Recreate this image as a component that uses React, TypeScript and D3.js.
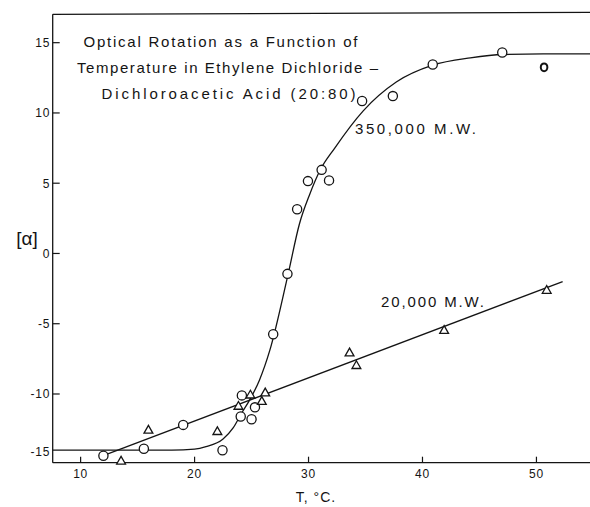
import React from "react";
import * as d3 from "d3";

// ---- data ----
const xTicks = [10, 20, 30, 40, 50];
const yTicks = [15, 10, 5, 0, -5, -10, -15];

// 350,000 M.W. (circles)
const circleT = [12.0, 15.55, 19.0, 22.45, 24.15, 24.05, 25.0, 25.3, 26.9, 28.15, 29.0, 29.95, 31.15, 31.8, 34.7, 37.4, 40.9, 47.0];
const circleV = [-14.4, -13.9, -12.2, -14.0, -10.1, -11.6, -11.8, -10.95, -5.75, -1.45, 3.15, 5.15, 5.95, 5.2, 10.85, 11.2, 13.45, 14.3];
const oddT = [50.67];
const oddV = [13.25];

// smooth curve drawn through the 350,000 M.W. points
const curveT = [7.55, 14, 18, 20, 21, 22.5, 23.4, 24.1, 24.85, 25.7, 26.6, 28.2, 29.2, 30.1, 31.0, 32.3, 34.8, 37.7, 40.9, 44.2, 47.1, 50.6, 54.7];
const curveV = [-14.0, -14.0, -14.0, -13.93, -13.75, -13.2, -12.4, -11.4, -10.4, -9.0, -6.9, -1.5, 2.1, 4.2, 5.9, 7.5, 10.15, 12.2, 13.4, 13.92, 14.16, 14.2, 14.2];

// 20,000 M.W. (triangles)
const triT = [13.55, 15.95, 22.0, 23.85, 24.9, 26.2, 25.9, 33.6, 34.2, 41.9, 50.9];
const triV = [-14.75, -12.55, -12.65, -10.85, -10.05, -9.9, -10.5, -7.05, -7.95, -5.45, -2.6];
const lineT = [12.1, 52.3];
const lineV = [-14.35, -2.0];

const titleLines = [
  "Optical Rotation as a Function of",
  "Temperature in Ethylene Dichloride –",
  "Dichloroacetic Acid (20:80)",
];

const W = 590;
const H = 507;

export default function App() {
  const x = d3.scaleLinear().domain([7.55, 54.7]).range([52.7, 590]);
  const y = d3.scaleLinear().domain([-14.89, 17.02]).range([462.7, 14.3]);
  const [x0, x1] = x.range();
  const [yB, yT] = y.range();

  const curvePath = d3
    .line<number>()
    .x((_, i) => x(curveT[i]))
    .y((_, i) => y(curveV[i]))
    .curve(d3.curveMonotoneX)(curveT) as string;

  const linePath = d3
    .line<number>()
    .x((_, i) => x(lineT[i]))
    .y((_, i) => y(lineV[i]))(lineT) as string;

  const ink = "#141414";
  const font = "'Liberation Sans', 'DejaVu Sans', sans-serif";
  const tri = (cx: number, cy: number) => {
    const s = 4.4;
    return `M${cx},${cy - s * 1.0}L${cx + s * 1.0},${cy + s * 0.75}L${cx - s * 1.0},${cy + s * 0.75}Z`;
  };

  const titleX = [83.5, 77, 101.5];
  const titleW = [274, 301, 254];
  const titleY = [47, 73, 99];

  return (
    <svg
      width={W}
      height={H}
      viewBox={`0 0 ${W} ${H}`}
      style={{ position: "absolute", left: 0, top: 0, background: "#fff" }}
    >
      <rect x={0} y={0} width={W} height={H} fill="#fff" />
      {/* frame */}
      <g stroke={ink} strokeWidth={1.3} fill="none">
        <line x1={x0} y1={yT} x2={x1} y2={yT - 2} />
        <line x1={x0} y1={yT} x2={x0} y2={yB} />
        <line x1={x0} y1={yB} x2={x1} y2={yB} />
      </g>
      {/* y ticks */}
      {yTicks.map((v) => (
        <g key={"y" + v}>
          {v > -15 && (
            <line x1={x0} x2={x0 + 7} y1={y(v)} y2={y(v)} stroke={ink} strokeWidth={1.2} />
          )}
          <text
            x={x0 - 2.5}
            y={Math.min(y(v), yB - 11)}
            dy="0.36em"
            textAnchor="end"
            fontFamily={font}
            fontSize={12}
            fill={ink}
            letterSpacing={0.8}
          >
            {v < 0 ? "-" + Math.abs(v) : String(v)}
          </text>
        </g>
      ))}
      {/* x ticks */}
      {xTicks.map((t) => (
        <g key={"x" + t}>
          <line x1={x(t)} x2={x(t)} y1={yB} y2={yB - 6} stroke={ink} strokeWidth={1.2} />
          <text
            x={x(t)}
            y={yB + 15}
            textAnchor="middle"
            fontFamily={font}
            fontSize={12}
            fill={ink}
            letterSpacing={0.8}
          >
            {t}
          </text>
        </g>
      ))}
      {/* axis titles */}
      <text x={316} y={502} textAnchor="middle" fontFamily={font} fontSize={14} fill={ink} letterSpacing={1}>
        T, °C.
      </text>
      <text x={27} y={238} dy="0.36em" textAnchor="middle" fontFamily={font} fontSize={19} fill={ink}>
        [α]
      </text>
      {/* title */}
      {titleLines.map((s, i) => (
        <text
          key={"t" + i}
          x={titleX[i]}
          y={titleY[i]}
          fontFamily={font}
          fontSize={15}
          fill={ink}
          textLength={titleW[i]}
          lengthAdjust="spacing"
        >
          {s}
        </text>
      ))}
      {/* curves */}
      <path d={curvePath} fill="none" stroke={ink} strokeWidth={1.3} />
      <path d={linePath} fill="none" stroke={ink} strokeWidth={1.3} />
      {/* series labels */}
      <text x={355} y={134} fontFamily={font} fontSize={15} fill={ink} textLength={121} lengthAdjust="spacing">
        350,000 M.W.
      </text>
      <text x={381} y={307} fontFamily={font} fontSize={15} fill={ink} textLength={103} lengthAdjust="spacing">
        20,000 M.W.
      </text>
      {/* markers */}
      {circleT.map((t, i) => (
        <circle
          key={"c" + i}
          cx={x(t)}
          cy={y(circleV[i])}
          r={4.6}
          fill="#fff"
          stroke={ink}
          strokeWidth={1.3}
        />
      ))}
      {oddT.map((t, i) => (
        <ellipse
          key={"o" + i}
          cx={x(t)}
          cy={y(oddV[i])}
          rx={3.3}
          ry={3.9}
          fill="#fff"
          stroke={ink}
          strokeWidth={2}
        />
      ))}
      {triT.map((t, i) => (
        <path
          key={"tr" + i}
          d={tri(x(t), y(triV[i]))}
          fill="#fff"
          stroke={ink}
          strokeWidth={1.3}
          strokeLinejoin="miter"
        />
      ))}
    </svg>
  );
}
